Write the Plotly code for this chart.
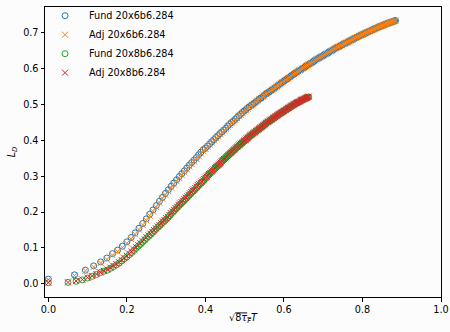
import plotly.graph_objects as go

# x grids (sqrt(8 tau_F) T) for the Nt=6 and Nt=8 lattices (same flow times)
x_6 = [0, 0.0667, 0.0943, 0.1155, 0.1333, 0.1491, 0.1633, 0.1764, 0.1886, 0.2,
       0.2108, 0.2211, 0.2309, 0.2404, 0.2494, 0.2582, 0.2667, 0.2749, 0.2828, 0.2906,
       0.2981, 0.3055, 0.3127, 0.3197, 0.3266, 0.3333, 0.3399, 0.3464, 0.3528, 0.3590,
       0.3651, 0.3712, 0.3771, 0.3830, 0.3887, 0.3944, 0.4, 0.4055, 0.4110, 0.4163,
       0.4216, 0.4269, 0.4320, 0.4372, 0.4422, 0.4472, 0.4522, 0.4570, 0.4619, 0.4667,
       0.4714, 0.4761, 0.4807, 0.4853, 0.4899, 0.4944, 0.4989, 0.5033, 0.5077, 0.5121,
       0.5164, 0.5207, 0.5249, 0.5292, 0.5333, 0.5375, 0.5416, 0.5457, 0.5497, 0.5538,
       0.5578, 0.5617, 0.5657, 0.5696, 0.5735, 0.5774, 0.5812, 0.5850, 0.5888, 0.5925,
       0.5963, 0.6, 0.6037, 0.6074, 0.6110, 0.6146, 0.6182, 0.6218, 0.6254, 0.6289,
       0.6325, 0.6360, 0.6394, 0.6429, 0.6464, 0.6498, 0.6532, 0.6566, 0.6600, 0.6633,
       0.6667, 0.6700, 0.6733, 0.6766, 0.6799, 0.6831, 0.6864, 0.6896, 0.6928, 0.6960,
       0.6992, 0.7024, 0.7055, 0.7087, 0.7118, 0.7149, 0.7180, 0.7211, 0.7242, 0.7272,
       0.7303, 0.7333, 0.7364, 0.7394, 0.7424, 0.7454, 0.7483, 0.7513, 0.7542, 0.7572,
       0.7601, 0.7630, 0.7659, 0.7688, 0.7717, 0.7746, 0.7775, 0.7803, 0.7832, 0.7860,
       0.7888, 0.7916, 0.7944, 0.7972, 0.8, 0.8028, 0.8055, 0.8083, 0.8110, 0.8138,
       0.8165, 0.8192, 0.8219, 0.8246, 0.8273, 0.8300, 0.8327, 0.8353, 0.8380, 0.8406,
       0.8433, 0.8459, 0.8485, 0.8511, 0.8537, 0.8563, 0.8589, 0.8615, 0.8641, 0.8667,
       0.8692, 0.8718, 0.8743, 0.8769, 0.8794, 0.8819, 0.8844]

x_8 = [0, 0.05, 0.0707, 0.0866, 0.1, 0.1118, 0.1225, 0.1323, 0.1414, 0.15,
       0.1581, 0.1658, 0.1732, 0.1803, 0.1871, 0.1936, 0.2, 0.2062, 0.2121, 0.2179,
       0.2236, 0.2291, 0.2345, 0.2398, 0.2449, 0.25, 0.2550, 0.2598, 0.2646, 0.2693,
       0.2739, 0.2784, 0.2828, 0.2872, 0.2915, 0.2958, 0.3, 0.3041, 0.3082, 0.3122,
       0.3162, 0.3202, 0.3240, 0.3279, 0.3317, 0.3354, 0.3391, 0.3428, 0.3464, 0.35,
       0.3536, 0.3571, 0.3606, 0.3640, 0.3674, 0.3708, 0.3742, 0.3775, 0.3808, 0.3841,
       0.3873, 0.3905, 0.3937, 0.3969, 0.4, 0.4031, 0.4062, 0.4093, 0.4123, 0.4153,
       0.4183, 0.4213, 0.4243, 0.4272, 0.4301, 0.4330, 0.4359, 0.4387, 0.4416, 0.4444,
       0.4472, 0.45, 0.4528, 0.4555, 0.4583, 0.4610, 0.4637, 0.4664, 0.4690, 0.4717,
       0.4743, 0.4770, 0.4796, 0.4822, 0.4848, 0.4873, 0.4899, 0.4924, 0.4950, 0.4975,
       0.5, 0.5025, 0.5050, 0.5074, 0.5099, 0.5123, 0.5148, 0.5172, 0.5196, 0.5220,
       0.5244, 0.5268, 0.5292, 0.5315, 0.5339, 0.5362, 0.5385, 0.5408, 0.5431, 0.5454,
       0.5477, 0.55, 0.5523, 0.5545, 0.5568, 0.5590, 0.5612, 0.5635, 0.5657, 0.5679,
       0.5701, 0.5723, 0.5745, 0.5766, 0.5788, 0.5809, 0.5831, 0.5852, 0.5874, 0.5895,
       0.5916, 0.5937, 0.5958, 0.5979, 0.6, 0.6021, 0.6042, 0.6062, 0.6083, 0.6103,
       0.6124, 0.6144, 0.6164, 0.6185, 0.6205, 0.6225, 0.6245, 0.6265, 0.6285, 0.6305,
       0.6325, 0.6344, 0.6364, 0.6384, 0.6403, 0.6423, 0.6442, 0.6461, 0.6481, 0.65,
       0.6519, 0.6538, 0.6557, 0.6576, 0.6595, 0.6614, 0.6633]

fund_6 = [0.013, 0.025, 0.038, 0.050, 0.061, 0.072, 0.084, 0.094, 0.105, 0.117,
          0.129, 0.142, 0.155, 0.168, 0.181, 0.194, 0.206, 0.218, 0.230, 0.241,
          0.252, 0.262, 0.272, 0.281, 0.290, 0.299, 0.307, 0.315, 0.323, 0.331,
          0.338, 0.345, 0.352, 0.360, 0.367, 0.374, 0.378, 0.384, 0.390, 0.396,
          0.402, 0.408, 0.413, 0.419, 0.424, 0.429, 0.434, 0.440, 0.445, 0.450,
          0.454, 0.459, 0.464, 0.469, 0.473, 0.478, 0.482, 0.486, 0.490, 0.494,
          0.498, 0.500, 0.504, 0.508, 0.511, 0.515, 0.518, 0.522, 0.525, 0.529,
          0.532, 0.535, 0.538, 0.541, 0.544, 0.547, 0.550, 0.553, 0.556, 0.559,
          0.562, 0.565, 0.568, 0.571, 0.573, 0.576, 0.579, 0.582, 0.585, 0.587,
          0.590, 0.592, 0.595, 0.597, 0.600, 0.602, 0.605, 0.607, 0.609, 0.612,
          0.614, 0.616, 0.619, 0.621, 0.623, 0.626, 0.628, 0.630, 0.632, 0.634,
          0.636, 0.638, 0.640, 0.642, 0.644, 0.646, 0.648, 0.650, 0.652, 0.654,
          0.656, 0.658, 0.660, 0.661, 0.663, 0.665, 0.666, 0.668, 0.670, 0.671,
          0.673, 0.675, 0.676, 0.678, 0.680, 0.681, 0.683, 0.685, 0.686, 0.688,
          0.689, 0.691, 0.692, 0.694, 0.695, 0.697, 0.698, 0.700, 0.701, 0.702,
          0.704, 0.705, 0.706, 0.708, 0.709, 0.710, 0.712, 0.713, 0.714, 0.716,
          0.717, 0.718, 0.719, 0.720, 0.721, 0.723, 0.724, 0.725, 0.726, 0.727,
          0.728, 0.729, 0.730, 0.731, 0.732, 0.733, 0.734]

adj_6 = [0.012, 0.023, 0.036, 0.047, 0.058, 0.068, 0.080, 0.090, 0.101, 0.113,
         0.125, 0.138, 0.151, 0.164, 0.177, 0.190, 0.202, 0.214, 0.226, 0.237,
         0.248, 0.258, 0.268, 0.277, 0.286, 0.295, 0.303, 0.311, 0.319, 0.327,
         0.334, 0.341, 0.348, 0.356, 0.363, 0.370, 0.376, 0.382, 0.388, 0.394,
         0.400, 0.406, 0.411, 0.417, 0.422, 0.427, 0.432, 0.438, 0.443, 0.448,
         0.452, 0.457, 0.462, 0.467, 0.471, 0.476, 0.480, 0.484, 0.488, 0.492,
         0.496, 0.500, 0.504, 0.508, 0.511, 0.515, 0.518, 0.522, 0.525, 0.529,
         0.532, 0.535, 0.538, 0.541, 0.544, 0.547, 0.550, 0.553, 0.556, 0.559,
         0.562, 0.565, 0.568, 0.571, 0.573, 0.576, 0.579, 0.582, 0.585, 0.587,
         0.590, 0.592, 0.595, 0.597, 0.600, 0.602, 0.605, 0.607, 0.609, 0.612,
         0.614, 0.616, 0.619, 0.621, 0.623, 0.626, 0.628, 0.630, 0.632, 0.634,
         0.636, 0.638, 0.640, 0.642, 0.644, 0.646, 0.648, 0.650, 0.652, 0.654,
         0.656, 0.658, 0.660, 0.661, 0.663, 0.665, 0.666, 0.668, 0.670, 0.671,
         0.673, 0.675, 0.676, 0.678, 0.680, 0.681, 0.683, 0.685, 0.686, 0.688,
         0.689, 0.691, 0.692, 0.694, 0.695, 0.697, 0.698, 0.700, 0.701, 0.702,
         0.704, 0.705, 0.706, 0.708, 0.709, 0.710, 0.712, 0.713, 0.714, 0.716,
         0.717, 0.718, 0.719, 0.720, 0.721, 0.723, 0.724, 0.725, 0.726, 0.727,
         0.728, 0.729, 0.730, 0.731, 0.732, 0.733, 0.734]

fund_8 = [0.003, 0.004, 0.007, 0.011, 0.016, 0.021, 0.026, 0.031, 0.035, 0.038,
          0.043, 0.048, 0.053, 0.058, 0.064, 0.070, 0.075, 0.081, 0.087, 0.093,
          0.099, 0.105, 0.110, 0.116, 0.121, 0.127, 0.132, 0.137, 0.142, 0.147,
          0.152, 0.157, 0.161, 0.166, 0.171, 0.175, 0.180, 0.184, 0.189, 0.194,
          0.199, 0.203, 0.208, 0.212, 0.217, 0.221, 0.225, 0.229, 0.233, 0.237,
          0.241, 0.245, 0.249, 0.253, 0.257, 0.260, 0.264, 0.268, 0.272, 0.275,
          0.279, 0.282, 0.286, 0.289, 0.295, 0.298, 0.302, 0.305, 0.308, 0.312,
          0.315, 0.318, 0.322, 0.325, 0.328, 0.331, 0.334, 0.337, 0.341, 0.344,
          0.347, 0.349, 0.352, 0.355, 0.358, 0.361, 0.364, 0.366, 0.369, 0.372,
          0.374, 0.377, 0.380, 0.382, 0.385, 0.387, 0.390, 0.392, 0.394, 0.397,
          0.399, 0.401, 0.404, 0.406, 0.408, 0.411, 0.413, 0.415, 0.417, 0.419,
          0.421, 0.423, 0.425, 0.427, 0.429, 0.431, 0.433, 0.435, 0.437, 0.439,
          0.441, 0.443, 0.445, 0.447, 0.449, 0.451, 0.452, 0.454, 0.456, 0.457,
          0.459, 0.461, 0.462, 0.464, 0.466, 0.467, 0.469, 0.471, 0.472, 0.474,
          0.475, 0.477, 0.478, 0.480, 0.481, 0.483, 0.484, 0.486, 0.487, 0.489,
          0.490, 0.492, 0.493, 0.495, 0.496, 0.497, 0.499, 0.500, 0.501, 0.503,
          0.504, 0.505, 0.506, 0.507, 0.508, 0.510, 0.511, 0.512, 0.513, 0.514,
          0.515, 0.516, 0.517, 0.518, 0.519, 0.520, 0.521]

adj_8 = [0.003, 0.004, 0.008, 0.012, 0.017, 0.022, 0.027, 0.032, 0.036, 0.040,
         0.045, 0.050, 0.055, 0.060, 0.066, 0.072, 0.078, 0.084, 0.090, 0.096,
         0.102, 0.108, 0.113, 0.119, 0.124, 0.130, 0.135, 0.140, 0.145, 0.150,
         0.155, 0.160, 0.164, 0.169, 0.174, 0.178, 0.183, 0.187, 0.192, 0.197,
         0.202, 0.206, 0.211, 0.215, 0.220, 0.224, 0.228, 0.232, 0.236, 0.240,
         0.244, 0.248, 0.252, 0.256, 0.260, 0.263, 0.267, 0.271, 0.275, 0.278,
         0.282, 0.285, 0.289, 0.292, 0.296, 0.299, 0.303, 0.306, 0.309, 0.313,
         0.316, 0.319, 0.323, 0.326, 0.329, 0.332, 0.335, 0.338, 0.342, 0.345,
         0.348, 0.350, 0.353, 0.356, 0.359, 0.362, 0.365, 0.367, 0.370, 0.373,
         0.375, 0.378, 0.381, 0.383, 0.386, 0.388, 0.391, 0.393, 0.395, 0.398,
         0.400, 0.402, 0.405, 0.407, 0.409, 0.412, 0.414, 0.416, 0.418, 0.420,
         0.422, 0.424, 0.426, 0.428, 0.430, 0.432, 0.434, 0.436, 0.438, 0.440,
         0.442, 0.444, 0.446, 0.448, 0.450, 0.452, 0.453, 0.455, 0.457, 0.458,
         0.460, 0.462, 0.463, 0.465, 0.467, 0.468, 0.470, 0.472, 0.473, 0.475,
         0.476, 0.478, 0.479, 0.481, 0.482, 0.484, 0.485, 0.487, 0.488, 0.490,
         0.491, 0.493, 0.494, 0.496, 0.497, 0.498, 0.500, 0.501, 0.502, 0.504,
         0.505, 0.506, 0.507, 0.508, 0.509, 0.511, 0.512, 0.513, 0.514, 0.515,
         0.516, 0.517, 0.518, 0.519, 0.520, 0.521, 0.522]

names = ["Fund 20x6b6.284", "Adj 20x6b6.284", "Fund 20x8b6.284", "Adj 20x8b6.284"]
colors = ["#1f77b4", "#ff7f0e", "#2ca02c", "#d62728"]
xs = [x_6, x_6, x_8, x_8]
ys = [fund_6, adj_6, fund_8, adj_8]
symbols = ["circle-open", "x-thin-open", "circle-open", "x-thin-open"]
sizes = [6, 6, 6, 6]

fig = go.Figure()
for name, c, x, y, s, sz in zip(names, colors, xs, ys, symbols, sizes):
    fig.add_trace(go.Scatter(
        x=x, y=y, mode="markers", name=name,
        marker=dict(symbol=s, size=sz, color=c, line=dict(color=c, width=1)),
    ))

font = "DejaVu Sans, sans-serif"
axis_common = dict(
    showgrid=False, zeroline=False, showline=True, mirror=True, automargin=False,
    linecolor="black", linewidth=1, ticks="outside", ticklen=3.5,
    tickwidth=1, tickcolor="black", tickfont=dict(family=font, size=9.7, color="black"),
)

fig.update_layout(
    width=450, height=332,
    margin=dict(l=45, r=9, t=7, b=35, autoexpand=False),
    paper_bgcolor="#fcfcfc", plot_bgcolor="#fcfcfc",
    font=dict(family=font, size=9.7, color="black"),
    showlegend=True,
    legend=dict(x=-0.01, y=1.02, xanchor="left", yanchor="top", itemwidth=38,
                bgcolor="rgba(0,0,0,0)", borderwidth=0,
                font=dict(family=font, size=9.7, color="black")),
    xaxis=dict(range=[-0.0085, 1.0], tickvals=[0, 0.2, 0.4, 0.6, 0.8, 1.0],
               ticktext=["0.0", "0.2", "0.4", "0.6", "0.8", "1.0"],
               title=dict(text="√<span style='text-decoration:overline'>8<i>τ</i><sub><i>F</i></sub></span><i>T</i>",
                          standoff=0, font=dict(family=font, size=9.7)),
               **axis_common),
    yaxis=dict(range=[-0.0368, 0.7718], tickvals=[0, 0.1, 0.2, 0.3, 0.4, 0.5, 0.6, 0.7],
               ticktext=["0.0", "0.1", "0.2", "0.3", "0.4", "0.5", "0.6", "0.7"],
               title=dict(text="<i>L</i><sub><i>D</i></sub>", standoff=5,
                          font=dict(family=font, size=9.7)),
               **axis_common),
)

fig.write_html("out.html", config={"displayModeBar": False},
               post_script="document.body.style.margin='0';")
